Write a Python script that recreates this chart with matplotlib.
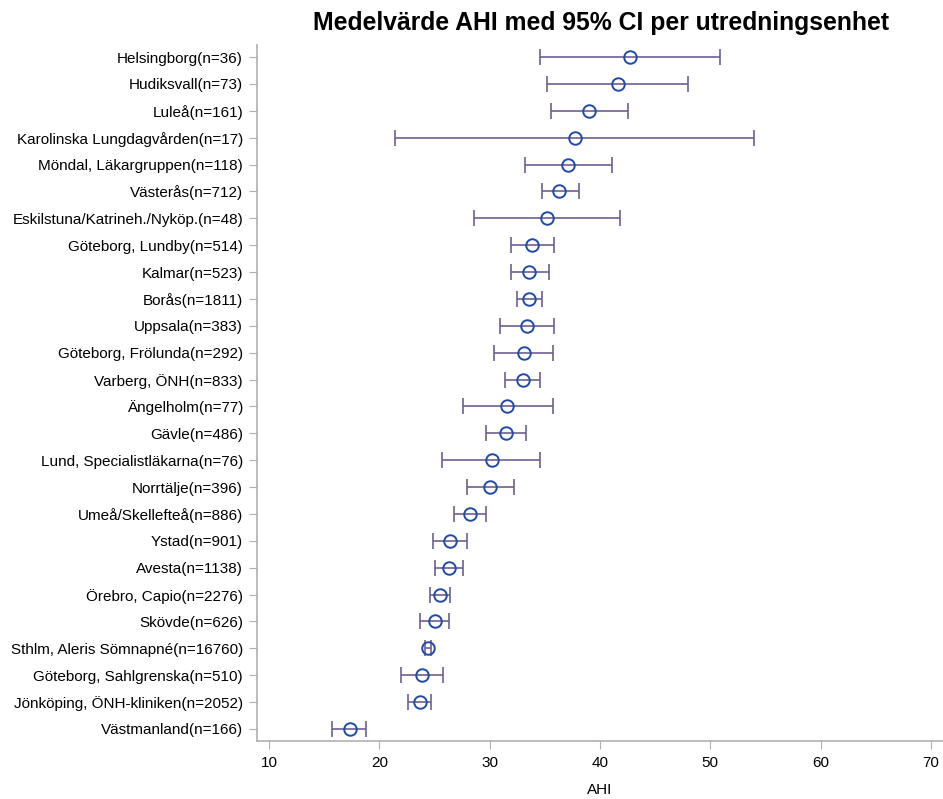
import matplotlib
matplotlib.use("Agg")
import matplotlib.pyplot as plt

plt.rcParams['font.family'] = ['Liberation Sans', 'DejaVu Sans']

# enheter, sorterade efter medelvärde (högst först)
enheter = [
    'Helsingborg(n=36)', 'Hudiksvall(n=73)', 'Luleå(n=161)',
    'Karolinska Lungdagvården(n=17)', 'Möndal, Läkargruppen(n=118)',
    'Västerås(n=712)', 'Eskilstuna/Katrineh./Nyköp.(n=48)',
    'Göteborg, Lundby(n=514)', 'Kalmar(n=523)', 'Borås(n=1811)',
    'Uppsala(n=383)', 'Göteborg, Frölunda(n=292)', 'Varberg, ÖNH(n=833)',
    'Ängelholm(n=77)', 'Gävle(n=486)', 'Lund, Specialistläkarna(n=76)',
    'Norrtälje(n=396)', 'Umeå/Skellefteå(n=886)', 'Ystad(n=901)',
    'Avesta(n=1138)', 'Örebro, Capio(n=2276)', 'Skövde(n=626)',
    'Sthlm, Aleris Sömnapné(n=16760)', 'Göteborg, Sahlgrenska(n=510)',
    'Jönköping, ÖNH-kliniken(n=2052)', 'Västmanland(n=166)',
]
medel = [42.7, 41.6, 39.0, 37.7, 37.1, 36.3, 35.2, 33.8, 33.6, 33.6,
         33.4, 33.1, 33.0, 31.6, 31.5, 30.2, 30.0, 28.2, 26.4, 26.3,
         25.5, 25.0, 24.4, 23.9, 23.7, 17.3]
ci_lag = [34.6, 35.2, 35.6, 21.4, 33.2, 34.7, 28.6, 31.9, 31.9, 32.5,
          30.9, 30.4, 31.4, 27.6, 29.7, 25.7, 27.9, 26.8, 24.9, 25.0,
          24.6, 23.7, 24.1, 22.0, 22.6, 15.7]
ci_hog = [50.9, 48.0, 42.5, 54.0, 41.1, 38.1, 41.8, 35.8, 35.4, 34.7,
          35.8, 35.7, 34.6, 35.7, 33.3, 34.6, 32.2, 29.7, 27.9, 27.6,
          26.4, 26.3, 24.7, 25.8, 24.7, 18.8]

ypos = list(range(len(enheter)))
err_lo = [m - lo for m, lo in zip(medel, ci_lag)]
err_hi = [hi - m for m, hi in zip(medel, ci_hog)]

fig = plt.figure(figsize=(9.43, 7.99), dpi=100)
ax = fig.add_axes([0.2725, 0.0726, 0.7275, 0.8711])

ax.errorbar(medel, ypos, xerr=[err_lo, err_hi], fmt='none',
            ecolor='#6e5f92', elinewidth=1.2, capsize=5.5, capthick=1.2)
ax.plot(medel, ypos, 'o', markersize=9, markerfacecolor='none',
        markeredgecolor='#1f4aa8', markeredgewidth=1.4)

ax.set_yticks(ypos)
ax.set_yticklabels(enheter, fontsize=11)
ax.set_ylim(25.45, -0.45)
ax.set_xlim(8.9, 71.1)
ax.set_xticks([10, 20, 30, 40, 50, 60, 70])
ax.tick_params(axis='x', labelsize=11, length=6, color='#b0b0b0', pad=5)
ax.tick_params(axis='y', length=6, color='#b0b0b0', pad=4)

for s in ('top', 'right'):
    ax.spines[s].set_visible(False)
for s in ('left', 'bottom'):
    ax.spines[s].set_color('#b0b0b0')
    ax.spines[s].set_linewidth(1.2)

ax.set_xlabel('AHI', fontsize=11, labelpad=9)
fig.text(0.637, 0.971, 'Medelvärde AHI med 95% CI per utredningsenhet',
         ha='center', va='center', fontsize=17.8, fontweight='bold')

fig.savefig('out.png', dpi=100)
